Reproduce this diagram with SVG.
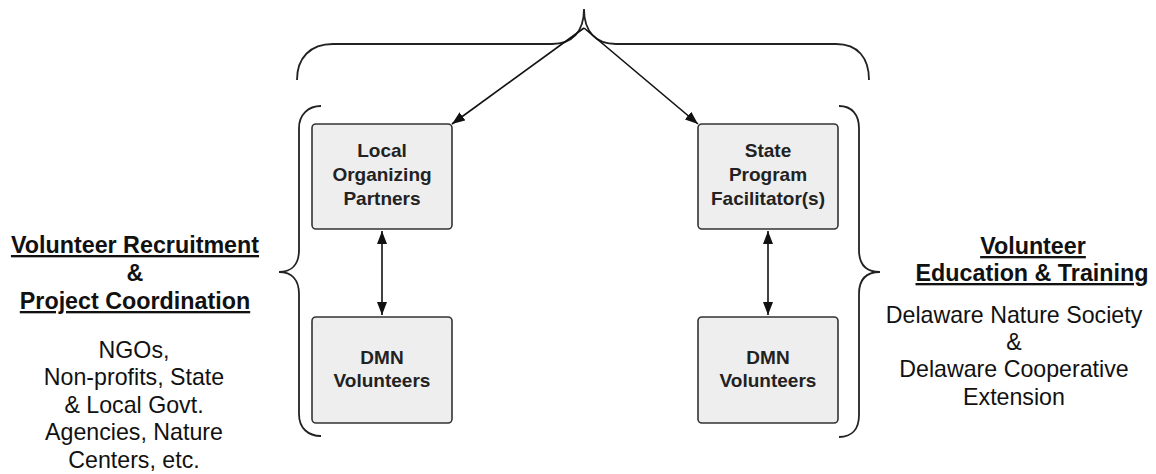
<svg xmlns="http://www.w3.org/2000/svg" width="1156" height="474" viewBox="0 0 1156 474">
<style>
.bg{fill:#ffffff}
.box{fill:#eeeeee;stroke:#333333;stroke-width:1.6}
.brace{fill:none;stroke:#222222;stroke-width:1.8}
.conn{fill:none;stroke:#111111;stroke-width:1.6}
.bt{font-family:"Liberation Sans",Arial,sans-serif;font-weight:bold;font-size:19px;fill:#222222;text-anchor:middle}
.hd{font-family:"Liberation Sans",Arial,sans-serif;font-weight:bold;font-size:23.3px;fill:#111111;text-anchor:middle}
.bd{font-family:"Liberation Sans",Arial,sans-serif;font-size:23.2px;fill:#111111;text-anchor:middle}
</style>
<defs>
<marker id="ah" markerUnits="userSpaceOnUse" markerWidth="14" markerHeight="11" refX="13" refY="5" orient="auto-start-reverse">
<path d="M0,0 L13,5 L0,10 z" fill="#111111"/>
</marker>
</defs>
<rect class="bg" x="0" y="0" width="1156" height="474"/>
<g id="braces">
<path class="brace" d="M297,80 C297,58 310,44 333,44 L552,44 C572,44 584,32 584,9 C584,32 596,44 616,44 L836,44 C858,44 869,58 869,80"/>
<path class="brace" d="M321,106 C308,106 299,115 299,128 L299,250 C299,264 292,272 279,272 C292,272 299,280 299,294 L299,414 C299,428 308,436 321,436"/>
<path class="brace" d="M839,106 C852,106 859,115 859,128 L859,250 C859,264 866,272 880,272 C866,272 859,280 859,294 L859,415 C859,429 852,437 839,437"/>
</g>
<g id="connectors">
<line class="conn" x1="584" y1="28" x2="452" y2="124" marker-end="url(#ah)"/>
<line class="conn" x1="584" y1="28" x2="698" y2="124" marker-end="url(#ah)"/>
<line class="conn" x1="382" y1="231" x2="382" y2="315" marker-start="url(#ah)" marker-end="url(#ah)"/>
<line class="conn" x1="768" y1="231" x2="768" y2="315" marker-start="url(#ah)" marker-end="url(#ah)"/>
</g>
<g id="local-organizing-partners">
<rect class="box" x="312" y="124" width="140" height="105" rx="4"/>
<text class="bt" x="382" y="157">Local</text>
<text class="bt" x="382" y="181">Organizing</text>
<text class="bt" x="382" y="205">Partners</text>
</g>
<g id="dmn-volunteers-left">
<rect class="box" x="312" y="317" width="140" height="106" rx="4"/>
<text class="bt" x="382" y="364">DMN</text>
<text class="bt" x="382" y="387">Volunteers</text>
</g>
<g id="state-program-facilitators">
<rect class="box" x="698" y="124" width="140" height="105" rx="4"/>
<text class="bt" x="768" y="157">State</text>
<text class="bt" x="768" y="181">Program</text>
<text class="bt" x="768" y="205">Facilitator(s)</text>
</g>
<g id="dmn-volunteers-right">
<rect class="box" x="698" y="317" width="140" height="106" rx="4"/>
<text class="bt" x="768" y="364">DMN</text>
<text class="bt" x="768" y="387">Volunteers</text>
</g>
<g id="left-label">
<text class="hd" x="135" y="253" text-decoration="underline">Volunteer Recruitment</text>
<text class="hd" x="135" y="281">&amp;</text>
<text class="hd" x="135" y="309" text-decoration="underline">Project Coordination</text>
<text class="bd" x="134" y="358">NGOs,</text>
<text class="bd" x="134" y="385">Non-profits, State</text>
<text class="bd" x="134" y="413">&amp; Local Govt.</text>
<text class="bd" x="134" y="440">Agencies, Nature</text>
<text class="bd" x="134" y="468">Centers, etc.</text>
</g>
<g id="right-label">
<text class="hd" x="1033" y="254" text-decoration="underline">Volunteer </text>
<text class="hd" x="1032" y="281" text-decoration="underline">Education &amp; Training</text>
<text class="bd" x="1014" y="323">Delaware Nature Society</text>
<text class="bd" x="1014" y="350">&amp;</text>
<text class="bd" x="1014" y="377">Delaware Cooperative</text>
<text class="bd" x="1014" y="405">Extension</text>
</g>
</svg>
